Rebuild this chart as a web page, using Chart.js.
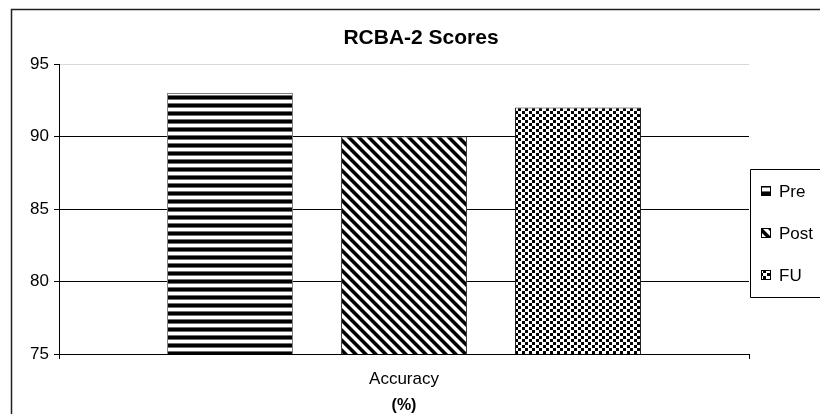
<!DOCTYPE html>
<html>
<head>
<meta charset="utf-8">
<script src="https://cdn.jsdelivr.net/npm/chart.js@4/dist/chart.umd.min.js"></script>
<style>
  html, body { margin: 0; padding: 0; background: #fff; overflow: hidden; }
  canvas { display: block; }
</style>
</head>
<body>
<canvas id="c" width="820" height="414"></canvas>
<script>
// Chart data
const categories = ['Accuracy'];
const seriesNames = ['Pre', 'Post', 'FU'];
const preValues = [93];
const postValues = [90];
const fuValues = [92];
const yTicks = [75, 80, 85, 90, 95];
const chartTitle = 'RCBA-2 Scores';
const axisTitle = '(%)';

const FONT = '"Liberation Sans", Arial, sans-serif';

// Build a repeating grey-level tile as a canvas pattern
function makePattern(w, h, shade) {
  const c = document.createElement('canvas');
  c.width = w; c.height = h;
  const g = c.getContext('2d');
  const img = g.createImageData(w, h);
  for (let y = 0; y < h; y++) {
    for (let x = 0; x < w; x++) {
      const v = shade(x, y);
      const i = (y * w + x) * 4;
      img.data[i] = img.data[i + 1] = img.data[i + 2] = v;
      img.data[i + 3] = 255;
    }
  }
  g.putImageData(img, 0, 0);
  return g.createPattern(c, 'repeat');
}

// horizontal stripes
const stripeRows = [0, 0, 0, 110, 255, 255, 255, 110];
const prePattern = makePattern(8, 8, (x, y) => stripeRows[y]);
// diagonal stripes running down to the right
const postPattern = makePattern(10, 10, (x, y) => {
  const d = ((x - y) % 10 + 10) % 10;
  if (d < 4) return 0;
  if (d === 4 || d === 9) return 120;
  return 255;
});
// staggered dots
const fuPattern = makePattern(7, 6, (x, y) => {
  const a = x <= 2 && y <= 2;
  const b = x >= 4 && x <= 6 && y >= 3 && y <= 5;
  return (a || b) ? 0 : 255;
});

const patterns = [prePattern, postPattern, fuPattern];
const seriesValues = [preValues, postValues, fuValues];
const borderColors = ['#808080', '#404040', '#202020'];

const decorations = {
  id: 'decorations',
  beforeDraw(chart) {
    const ctx = chart.ctx;
    ctx.save();
    ctx.fillStyle = '#fff';
    ctx.fillRect(0, 0, chart.width, chart.height);
    ctx.restore();
  },
  afterDraw(chart) {
    const ctx = chart.ctx;
    ctx.save();
    // outer frame: only its left and top edges fall inside the canvas
    ctx.strokeStyle = '#202020';
    ctx.lineWidth = 1.5;
    ctx.beginPath();
    ctx.moveTo(11.5, chart.height);
    ctx.lineTo(11.5, 9.5);
    ctx.lineTo(chart.width, 9.5);
    ctx.stroke();

    // title
    ctx.fillStyle = '#000';
    ctx.font = 'bold 21px ' + FONT;
    ctx.textAlign = 'center';
    ctx.textBaseline = 'middle';
    ctx.fillText(chartTitle, 421, 38);

    // legend box, open on the right
    ctx.lineWidth = 1;
    ctx.strokeStyle = '#000';
    ctx.fillStyle = '#fff';
    ctx.fillRect(750.5, 169.5, chart.width - 750, 128);
    ctx.beginPath();
    ctx.moveTo(chart.width, 169.5);
    ctx.lineTo(750.5, 169.5);
    ctx.lineTo(750.5, 297.5);
    ctx.lineTo(chart.width, 297.5);
    ctx.stroke();
    ctx.font = '17px ' + FONT;
    ctx.textAlign = 'left';
    chart.data.datasets.forEach((ds, i) => {
      const cy = 191 + i * 42;
      ctx.fillStyle = ds.backgroundColor;
      ctx.fillRect(761, cy - 5, 10, 10);
      ctx.strokeStyle = '#000';
      ctx.strokeRect(761.5, cy - 4.5, 9, 9);
      ctx.fillStyle = '#000';
      ctx.fillText(ds.label, 779, cy + 1);
    });
    ctx.restore();
  }
};

new Chart(document.getElementById('c'), {
  type: 'bar',
  data: {
    labels: categories,
    datasets: seriesNames.map((name, i) => ({
      label: name,
      data: seriesValues[i],
      backgroundColor: patterns[i],
      borderColor: borderColors[i],
      borderWidth: 1,
      borderSkipped: false,
      categoryPercentage: 0.7565,
      barPercentage: 0.724
    }))
  },
  options: {
    responsive: false,
    animation: false,
    devicePixelRatio: 1,
    layout: { padding: { top: 64, right: 71, bottom: 0, left: 0 } },
    plugins: {
      legend: { display: false },
      title: { display: false },
      tooltip: { enabled: false }
    },
    scales: {
      x: {
        afterFit(s) { s.height = 60; },
        grid: {
          offset: true,
          drawOnChartArea: false,
          drawTicks: true,
          tickLength: 5,
          color: '#000'
        },
        border: { display: true, color: '#000', width: 1 },
        ticks: {
          color: '#000',
          padding: 11,
          font: { family: FONT, size: 17, lineHeight: 1.1 }
        },
        title: {
          display: true,
          text: axisTitle,
          color: '#000',
          padding: { top: 0, bottom: 0 },
          font: { family: FONT, size: 16, weight: 'bold', lineHeight: 1.0 }
        }
      },
      y: {
        min: yTicks[0],
        max: yTicks[yTicks.length - 1],
        afterFit(s) { s.width = 59; },
        afterBuildTicks(s) { s.ticks = yTicks.map(v => ({ value: v })); },
        grid: {
          color: ctx => (ctx.tick && ctx.tick.value === yTicks[yTicks.length - 1]) ? '#d8d8d8' : '#000',
          tickColor: '#000',
          tickLength: 5,
          lineWidth: 1
        },
        border: { display: true, color: '#000', width: 1 },
        ticks: {
          color: '#000',
          padding: 5,
          font: { family: FONT, size: 17 }
        }
      }
    }
  },
  plugins: [decorations]
});
</script>
</body>
</html>
